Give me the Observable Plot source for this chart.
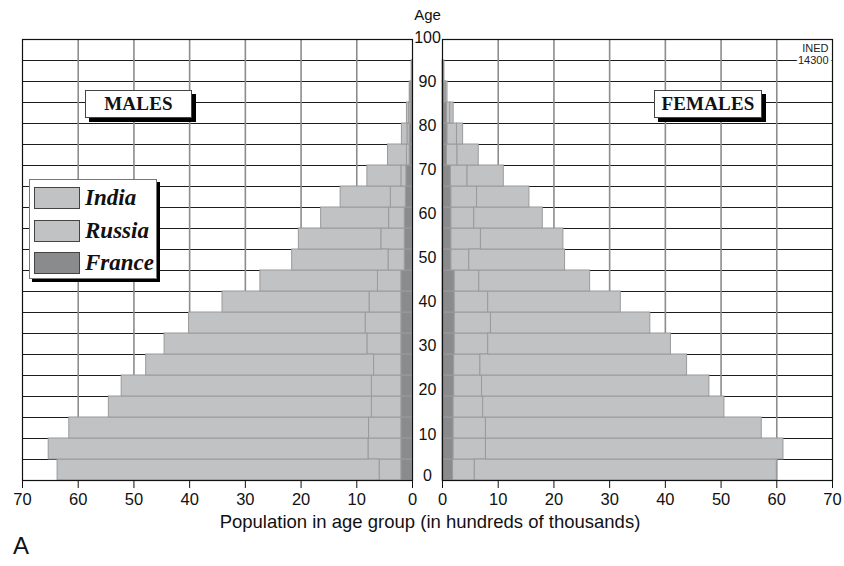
<!DOCTYPE html>
<html>
<head>
<meta charset="utf-8">
<script src="https://cdn.jsdelivr.net/npm/d3@7"></script>
<script src="https://cdn.jsdelivr.net/npm/@observablehq/plot@0.6"></script>
<style>
  body { margin: 0; background: #fff; }
  #wrap { position: relative; width: 844px; height: 566px; font-family: "Liberation Sans", Arial, Helvetica, sans-serif; color: #111; }
  #plots { position: absolute; left: 0; top: 0; display: flex; }
  #plots svg { overflow: visible; }
  .tag { position: absolute; box-sizing: border-box; background: #fff; border: 1.5px solid #444; box-shadow: 4px 4px 0 #000;
         font-family: "Liberation Serif", "Times New Roman", serif; font-weight: bold; font-size: 19px;
         display: flex; align-items: center; justify-content: center; letter-spacing: 0.2px; }
  #legend { position: absolute; left: 29px; top: 179px; width: 128px; height: 100px; box-sizing: border-box;
            background: #fff; border: 1.5px solid #777; box-shadow: 3px 3px 0 #000; }
  .item { position: absolute; left: 4px; height: 22px; display: flex; align-items: center; }
  .sw { width: 46px; height: 22px; box-sizing: border-box; border: 1.5px solid #444; }
  .lab { margin-left: 5px; font-family: "Liberation Serif", "Times New Roman", serif; font-weight: bold; font-style: italic; font-size: 23px; line-height: 22px; }
  #xtitle { position: absolute; left: 8px; width: 844px; top: 511px; text-align: center; font-size: 18.5px; }
  #letter { position: absolute; left: 13px; top: 532px; font-size: 24px; }
</style>
</head>
<body>
<div id="wrap">
  <div id="plots"></div>
  <div class="tag" style="left:85px;top:90px;width:107px;height:28px;">MALES</div>
  <div class="tag" style="left:654px;top:90px;width:108px;height:28px;">FEMALES</div>
  <div id="legend"></div>
  <div id="xtitle">Population in age group (in hundreds of thousands)</div>
  <div id="letter">A</div>
</div>
<script>
// ---- data (age groups from the bottom, 5-year bands) ----
const ageGroups = [0, 5, 10, 15, 20, 25, 30, 35, 40, 45, 50, 55, 60, 65, 70, 75, 80, 85, 90, 95, 100];
const countries = ["France", "Russia", "India"]; // stacked from the centre outwards
const legendOrder = ["India", "Russia", "France"];

// Males (stacked segment widths)
const maleFrance = [2.0, 2.0, 2.0, 2.0, 2.0, 2.0, 2.0, 2.0, 2.0, 2.0, 1.4, 1.4, 1.4, 1.2, 1.1, 0.5, 0.5, 0.3, 0.2, 0.05, 0];
const maleRussia = [3.9, 5.9, 5.8, 5.3, 5.3, 4.9, 6.1, 6.4, 5.7, 4.2, 2.9, 4.2, 2.8, 2.7, 0.9, 0.5, 0.4, 0.3, 0.15, 0.05, 0];
const maleIndia  = [57.8, 57.4, 53.8, 47.2, 44.9, 40.9, 36.4, 31.7, 26.4, 21.1, 17.3, 14.8, 12.2, 9.0, 6.1, 3.4, 1.0, 0.4, 0.15, 0.05, 0];

// Females (stacked segment widths)
const femaleFrance = [1.9, 2.0, 2.0, 2.0, 2.1, 2.1, 2.2, 2.2, 2.2, 2.2, 1.6, 1.6, 1.6, 1.6, 1.5, 0.8, 0.9, 0.8, 0.4, 0.1, 0];
const femaleRussia = [3.9, 5.8, 5.8, 5.3, 5.0, 4.7, 6.0, 6.5, 6.0, 4.4, 3.2, 5.3, 4.1, 4.6, 3.0, 1.9, 1.7, 0.6, 0.2, 0.1, 0];
const femaleIndia  = [54.2, 53.4, 49.5, 43.3, 40.8, 37.1, 32.8, 28.6, 23.8, 19.9, 17.2, 14.8, 12.3, 9.4, 6.5, 3.8, 1.1, 0.6, 0.3, 0.15, 0];

const xTicks = [0, 10, 20, 30, 40, 50, 60, 70];
const xGrid = [10, 20, 30, 40, 50, 60];
const ageTicks = [0, 10, 20, 30, 40, 50, 60, 70, 80, 90, 100];
const gridAges = [5, 10, 15, 20, 25, 30, 35, 40, 45, 50, 55, 60, 65, 70, 75, 80, 85, 90, 95, 100];

const colors = { India: "#c1c2c4", Russia: "#c1c2c4", France: "#8a8b8d" };

function table(series) {
  const rows = [];
  for (const c of countries) {
    series[c].forEach((v, i) => { if (v > 0) rows.push({ age: ageGroups[i], country: c, value: v }); });
  }
  return rows;
}
const males = table({ France: maleFrance, Russia: maleRussia, India: maleIndia });
const females = table({ France: femaleFrance, Russia: femaleRussia, India: femaleIndia });

// the 21 five-year rows fill the frame; age labels 0..100 are spread over the same height
const labelPos = a => a * 105 / 100;

function panel(data, left) {
  const marks = [
    Plot.ruleY(gridAges, { stroke: "#1c1c1c", strokeWidth: 1 }),
    Plot.ruleX(xGrid, { stroke: "#8c8c8c", strokeWidth: 1.6 }),
    Plot.rectX(data, Plot.stackX({
      x: "value", y1: "age", y2: d => d.age + 5, z: "country", order: countries,
      fill: d => colors[d.country], stroke: "#9a9a9a", strokeWidth: 1
    })),
    Plot.frame({ stroke: "#111", strokeWidth: 1.2 }),
    Plot.axisX({ ticks: xTicks, tickSize: 8, tickPadding: 5, label: null, tickFormat: d => String(d), fontSize: 16.5, stroke: "#111" })
  ];
  if (left) {
    marks.push(
      Plot.text(ageTicks.filter(a => a > 0), { y: labelPos, text: d => String(d), frameAnchor: "right", dx: 15, dy: -2, textAnchor: "middle", fontSize: 16, fill: "#111" }),
      Plot.text(ageTicks.filter(a => a === 0), { y: labelPos, text: d => String(d), frameAnchor: "right", dx: 15, dy: -5, textAnchor: "middle", fontSize: 16, fill: "#111" }),
      Plot.text(["Age"], { frameAnchor: "top-right", dx: 15, dy: -24, textAnchor: "middle", lineAnchor: "middle", fontSize: 15, fill: "#111" })
    );
  } else {
    marks.push(
      Plot.text(["INED\n14300"], { frameAnchor: "top-right", dx: -4, dy: 4, textAnchor: "end", lineAnchor: "top", fontSize: 11, lineHeight: 1.1, fill: "#222", stroke: "white", strokeWidth: 6 })
    );
  }
  return Plot.plot({
    width: left ? 442 : 402,
    height: 510,
    marginTop: 39,
    marginBottom: 30,
    marginLeft: left ? 22 : 0,
    marginRight: left ? 30 : 12,
    x: { domain: [0, 70], reverse: left, axis: null },
    y: { domain: [0, 105], axis: null },
    style: { fontFamily: "'Liberation Sans', Arial, Helvetica, sans-serif", fontSize: "16px", color: "#111", background: "transparent", overflow: "visible" },
    marks
  });
}

const host = document.getElementById("plots");
host.append(panel(males, true), panel(females, false));

// legend
const lg = document.getElementById("legend");
const tops = [7, 39.5, 72];
legendOrder.forEach((c, i) => {
  const it = document.createElement("div");
  it.className = "item";
  it.style.top = tops[i] + "px";
  const sw = document.createElement("div");
  sw.className = "sw";
  sw.style.background = colors[c];
  const lb = document.createElement("span");
  lb.className = "lab";
  lb.textContent = c;
  it.append(sw, lb);
  lg.append(it);
});
</script>
</body>
</html>
